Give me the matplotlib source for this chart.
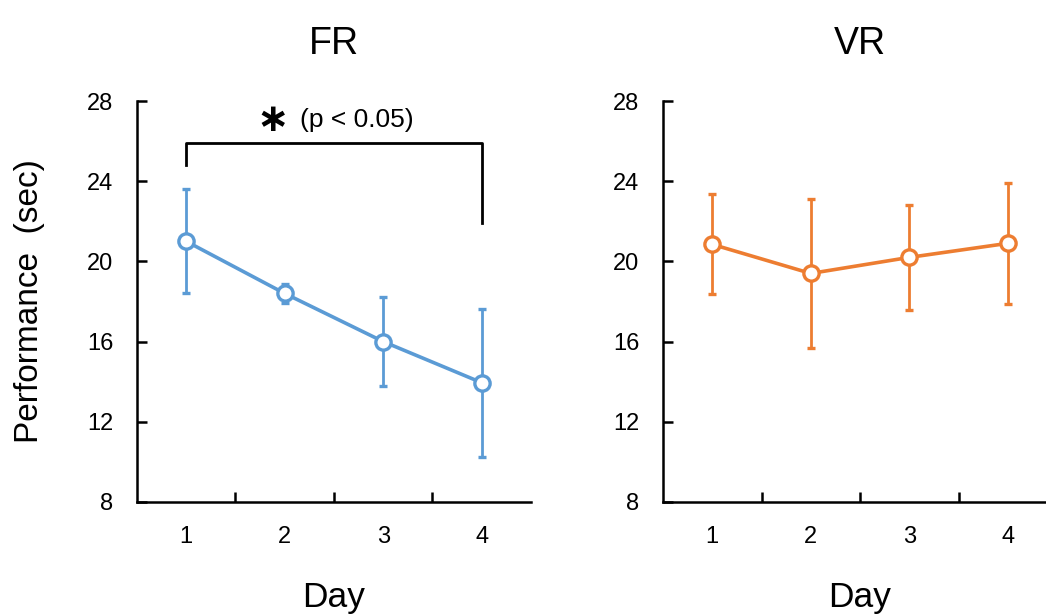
import matplotlib
matplotlib.use("Agg")
import matplotlib.pyplot as plt
from matplotlib.ticker import FixedLocator

plt.rcParams['font.family'] = ['Liberation Sans', 'DejaVu Sans']

days = [1, 2, 3, 4]
day_labels = ["1", "2", "3", "4"]
fr_mean = [21.0, 18.4, 16.0, 13.95]
fr_err = [2.6, 0.45, 2.2, 3.7]
vr_mean = [20.85, 19.4, 20.2, 20.9]
vr_err = [2.5, 3.7, 2.6, 3.0]
yticks = [8, 12, 16, 20, 24, 28]
titles = ["FR", "VR"]

blue = "#5B9BD5"
orange = "#ED7D31"

fig = plt.figure(figsize=(10.46, 6.15), dpi=100)
ax1 = fig.add_axes([137/1046, 1-502/615, 394/1046, 401/615])
ax2 = fig.add_axes([663/1046, 1-502/615, 394/1046, 401/615])

for ax, mean, err, col, title in [(ax1, fr_mean, fr_err, blue, titles[0]),
                                   (ax2, vr_mean, vr_err, orange, titles[1])]:
    ax.errorbar(days, mean, yerr=err, color=col, lw=2.6, elinewidth=2.0,
                capsize=3.2, capthick=2.0, marker='o', markersize=11,
                markerfacecolor='white', markeredgecolor=col, markeredgewidth=2.4,
                zorder=3)
    ax.set_xlim(0.5, 4.5)
    ax.set_ylim(8, 28)
    ax.set_yticks(yticks)
    ax.set_yticklabels([str(t) for t in yticks])
    ax.set_xticks(days)
    ax.set_xticklabels(day_labels)
    ax.xaxis.set_minor_locator(FixedLocator([1.5, 2.5, 3.5]))
    ax.tick_params(axis='x', which='major', length=0, pad=17, labelsize=17)
    ax.tick_params(axis='x', which='minor', length=7, width=1.8, direction='in')
    ax.tick_params(axis='y', which='major', length=7, width=1.8, direction='in',
                   labelsize=17, pad=17)
    for s in ['top', 'right']:
        ax.spines[s].set_visible(False)
    for s in ['left', 'bottom']:
        ax.spines[s].set_linewidth(1.8)
    ax.set_xlabel("Day", fontsize=25.5, labelpad=24)
    ax.set_title(title, fontsize=27, pad=34)

ax1.set_ylabel("Performance  (sec)", fontsize=24, labelpad=30)

# significance bracket
ax1.plot([1, 1, 4, 4], [24.8, 25.9, 25.9, 21.9], color='black', lw=2.0, clip_on=False)
ax1.text(1.88, 27.0, "\u2217", fontsize=28, ha='center', va='center', fontweight='bold')
ax1.text(2.15, 27.05, "(p < 0.05)", fontsize=19, ha='left', va='center')

fig.savefig("out.png", dpi=100)
